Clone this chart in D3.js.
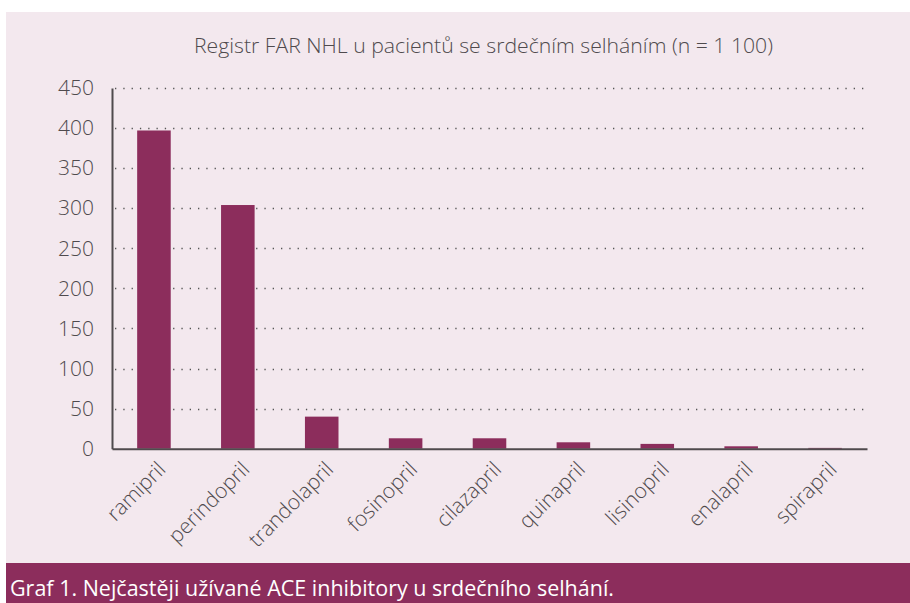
<!DOCTYPE html>
<html>
<head>
<meta charset="utf-8">
<script src="https://cdn.jsdelivr.net/npm/d3@7"></script>
<style>
  body { margin: 0; background: #fff; }
  text { font-family: "Open Sans", "Noto Sans", sans-serif; }
</style>
</head>
<body>
<div id="chart"></div>
<script>
// data
const drugs = ["ramipril", "perindopril", "trandolapril", "fosinopril", "cilazapril",
               "quinapril", "lisinopril", "enalapril", "spirapril"];
const counts = [397, 304, 40, 13, 13, 8, 6, 3, 1];
const yTicks = [0, 50, 100, 150, 200, 250, 300, 350, 400, 450];
const chartTitle = "Registr FAR NHL u pacientů se srdečním selháním (n = 1 100)";
const caption = "Graf 1. Nejčastěji užívané ACE inhibitory u srdečního selhání.";

const W = 910, H = 603;
const margin = {top: 88, right: 43, bottom: 155, left: 112};
const width = W - margin.left - margin.right;
const height = 448.7 - margin.top;
const wine = "#8c2d5c";
const grey = "#4f4a4d";

const svg = d3.select("#chart").append("svg")
    .attr("width", W).attr("height", H);

// panel background
svg.append("rect").attr("x", 6).attr("y", 12).attr("width", W - 6).attr("height", H - 12)
    .attr("fill", "#f3e8ee");

// footer band
svg.append("rect").attr("x", 6).attr("y", 563).attr("width", W - 6).attr("height", H - 563)
    .attr("fill", wine);
svg.append("text")
    .attr("x", 10).attr("y", 596)
    .attr("fill", "#fff")
    .attr("font-size", 21)
    .attr("textLength", 604)
    .attr("lengthAdjust", "spacingAndGlyphs")
    .text(caption);

// title
svg.append("text")
    .attr("x", 483.5).attr("y", 53)
    .attr("text-anchor", "middle")
    .attr("fill", grey)
    .attr("font-size", 21)
    .attr("font-weight", 300)
    .attr("textLength", 579)
    .attr("lengthAdjust", "spacingAndGlyphs")
    .text(chartTitle);

const g = svg.append("g")
    .attr("transform", `translate(${margin.left},${margin.top})`);

const x = d3.scaleBand()
    .domain(drugs)
    .range([0, width])
    .paddingInner(0.6)
    .paddingOuter(0.3);

const y = d3.scaleLinear()
    .domain([0, 450])
    .range([height, 0]);

// dotted gridlines
g.append("g")
    .selectAll("line")
    .data(yTicks.filter(d => d > 0))
    .join("line")
    .attr("x1", 3).attr("x2", width)
    .attr("y1", d => Math.round(y(d)) + 0.5)
    .attr("y2", d => Math.round(y(d)) + 0.5)
    .attr("stroke", "#555")
    .attr("stroke-width", 1.3)
    .attr("stroke-dasharray", "1.3,7");

// bars
g.append("g")
    .selectAll("rect")
    .data(counts)
    .join("rect")
    .attr("x", (d, i) => x(drugs[i]))
    .attr("y", d => y(d))
    .attr("width", x.bandwidth())
    .attr("height", d => height - y(d))
    .attr("fill", wine);

// y axis
const yAxis = g.append("g")
    .call(d3.axisLeft(y).tickValues(yTicks).tickSize(0).tickPadding(18));
yAxis.select(".domain").attr("stroke", grey).attr("stroke-width", 2);
yAxis.selectAll("text")
    .attr("fill", grey)
    .attr("font-size", 21)
    .attr("font-weight", 300)
    .attr("font-family", "Open Sans, sans-serif");

// x axis
const xAxis = g.append("g")
    .attr("transform", `translate(0,${height})`)
    .call(d3.axisBottom(x).tickSize(0).tickFormat(""));
xAxis.select(".domain").attr("stroke", grey).attr("stroke-width", 2);

// rotated category labels
g.append("g")
    .selectAll("text")
    .data(drugs)
    .join("text")
    .attr("transform", d => `translate(${x(d) + x.bandwidth() / 2 + 13},${height + 22}) rotate(-45)`)
    .attr("text-anchor", "end")
    .attr("fill", grey)
    .attr("font-size", 21)
    .attr("font-weight", 300)
    .text(d => d);
</script>
</body>
</html>
